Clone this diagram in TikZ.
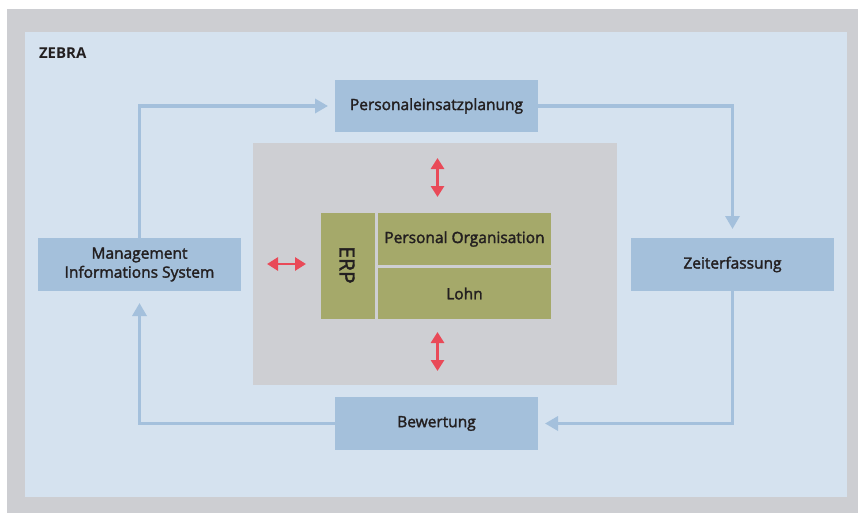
\documentclass[tikz,border=0pt]{standalone}
\usepackage{fontspec}
\setmainfont{Open Sans}
\newfontfamily\medfont{Open Sans}[FakeBold=2]
\usetikzlibrary{arrows.meta}
\begin{document}
\begin{tikzpicture}[x=1pt,y=-1pt,
  every node/.style={font=\medfont\fontsize{15.5}{19}\selectfont,text=textColor,inner sep=0pt,outer sep=0pt,align=center},
  stepbox/.style={fill=boxColor,minimum width=203pt,minimum height=53pt},
  erpbox/.style={fill=oliveColor},
  flow/.style={draw=lineColor,line width=3.4pt,-{Triangle[length=13pt,width=14pt]}},
  link/.style={draw=redColor,line width=2.8pt,{Triangle[length=11pt,width=13pt]}-{Triangle[length=11pt,width=13pt]}}]
\definecolor{frameColor}{RGB}{205,206,210}
\definecolor{panelColor}{RGB}{213,226,239}
\definecolor{boxColor}{RGB}{164,192,219}
\definecolor{lineColor}{RGB}{164,192,220}
\definecolor{coreColor}{RGB}{206,207,211}
\definecolor{oliveColor}{RGB}{165,169,106}
\definecolor{redColor}{RGB}{233,74,88}
\definecolor{textColor}{RGB}{35,31,32}
\path[use as bounding box,fill=white] (0,0) rectangle (858,513);
\path[fill=frameColor] (7,9) rectangle (858,513);
\path[fill=panelColor] (25,32) rectangle (847,497);
\node[anchor=base west,font=\fontsize{15}{18}\selectfont\bfseries] (zebra) at (39,59) {ZEBRA};

% process boxes
\node[stepbox,minimum height=52pt] (pep) at (436.5,106) {Personaleinsatzplanung};
\node[stepbox] (zeit) at (732.5,264.5) {Zeiterfassung};
\node[stepbox] (bew) at (436.5,423.5) {Bewertung};
\node[stepbox] (mis) at (139.5,264.5) {Management\\Informations System};

% ERP core
\node[fill=coreColor,minimum width=364pt,minimum height=242pt] (core) at (435,264) {};
\node[erpbox,minimum width=54pt,minimum height=106pt] (erp) at (348,266) {};
\node[rotate=-90,font=\medfont\fontsize{21}{24}\selectfont] (erplabel) at (347,265) {ERP};
\node[erpbox,minimum width=173pt,minimum height=52pt] (po) at (464.5,239) {Personal Organisation};
\node[erpbox,minimum width=173pt,minimum height=51pt] (lohn) at (464.5,293.5) {Lohn};

% cycle
\draw[flow,shorten >=7pt] (mis.north) |- (pep.west);
\draw[flow,shorten >=9pt] (pep.east) -| (zeit.north);
\draw[flow,shorten >=7pt] (zeit.south) |- (bew.east);
\draw[flow,shorten >=12pt] (bew.west) -| (mis.south);

% exchange with ERP
\coordinate (topA) at (437.5,158);
\coordinate (topB) at (437.5,197);
\coordinate (botA) at (437.5,332);
\coordinate (botB) at (437.5,371);
\coordinate (leftA) at (267,264);
\coordinate (leftB) at (306,264);
\draw[link] (topA) -- (topB);
\draw[link] (botA) -- (botB);
\draw[link] (leftA) -- (leftB);
\end{tikzpicture}
\end{document}
